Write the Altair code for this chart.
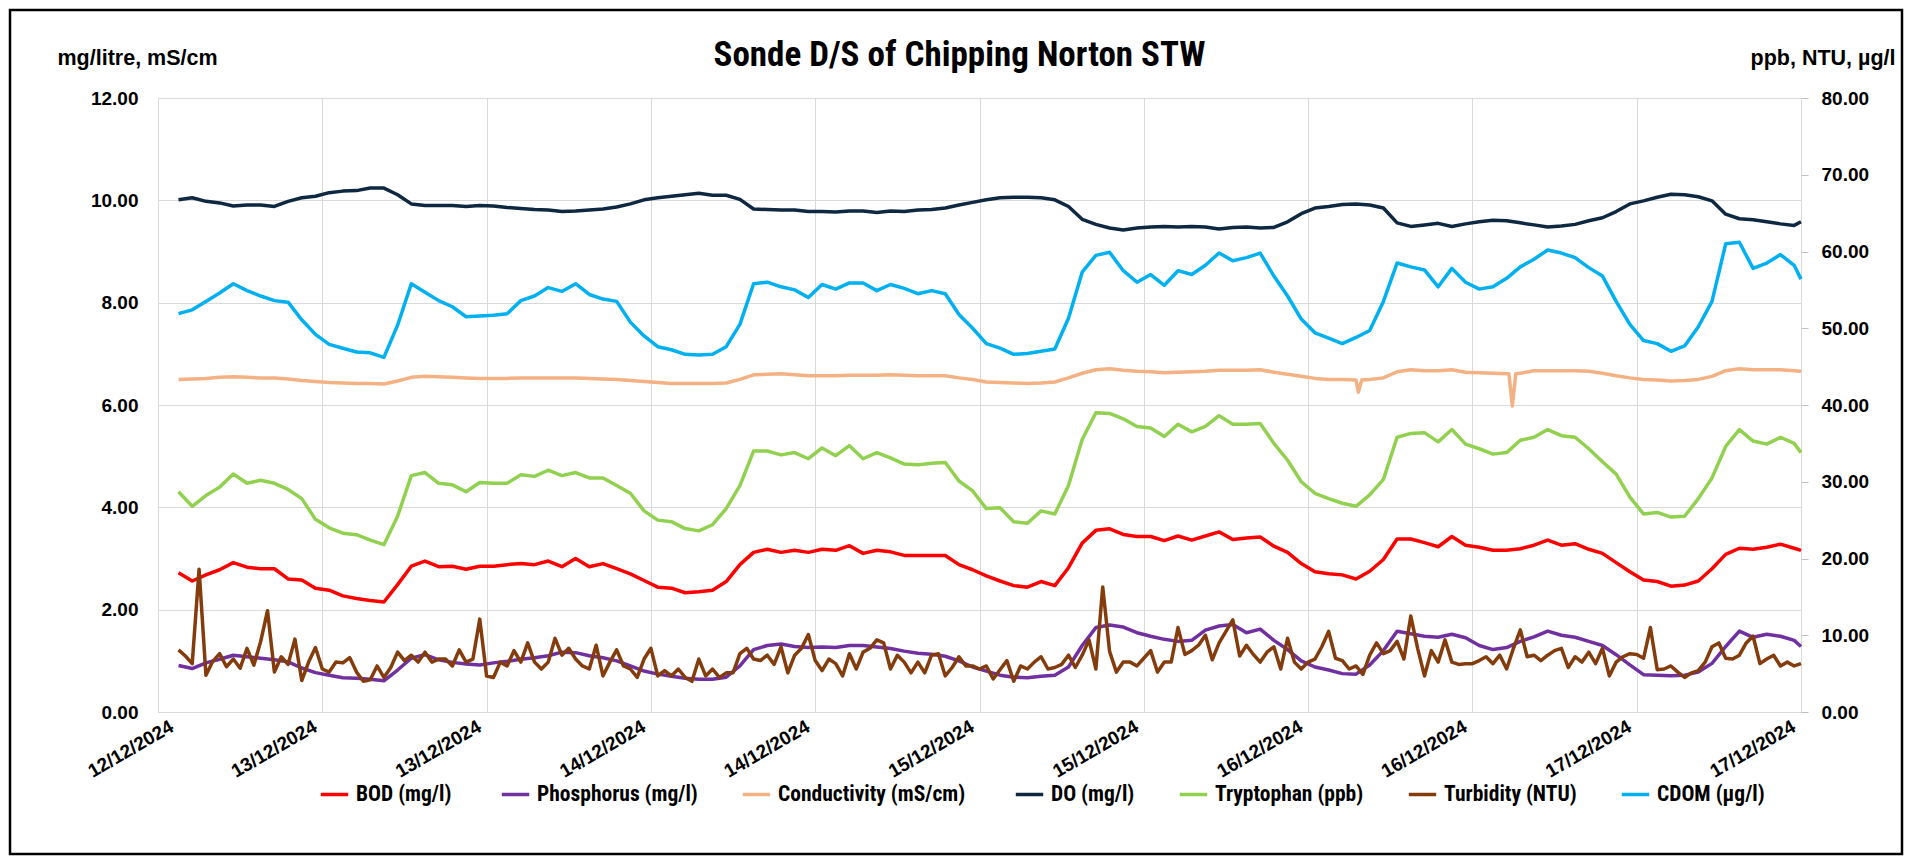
import altair as alt
import pandas as pd

# ---------------- data ----------------
SERIES = ["BOD  (mg/l)", "Phosphorus (mg/l)", "Conductivity  (mS/cm)", "DO (mg/l)",
          "Tryptophan (ppb)", "Turbidity (NTU)", "CDOM (µg/l)"]
COLORS = ["#FF0000", "#7030A0", "#F4B183", "#0E2841", "#92D050", "#843C0C", "#00B0F0"]
WIDTHS = [3.5, 3.5, 2.5, 2.5, 3.5, 3.5, 3.5]

# hourly readings, 12/12 13:30 ... 17/12 11:30, plus 17/12 12:00
hourly_times = [t.strftime("%Y-%m-%dT%H:%M:%S")
                for t in pd.date_range("2024-12-12 13:30", periods=119, freq="h")]
hourly_times.append("2024-12-17T12:00:00")
# half-hourly readings (turbidity)
half_times = [t.strftime("%Y-%m-%dT%H:%M:%S")
              for t in pd.date_range("2024-12-12 13:30", "2024-12-17 12:00", freq="30min")]

bod = [2.72, 2.56, 2.68, 2.78, 2.92, 2.83, 2.80, 2.80, 2.60, 2.58, 2.42, 2.38, 2.27, 2.22, 2.18, 2.15, 2.49, 2.85, 2.95, 2.84, 2.85, 2.79,
       2.85, 2.85, 2.88, 2.90, 2.88, 2.95, 2.84, 3.00, 2.84, 2.90, 2.80, 2.70, 2.57, 2.44, 2.42, 2.33, 2.35, 2.38, 2.55, 2.88, 3.12,
       3.18, 3.12, 3.16, 3.12, 3.18, 3.16, 3.25, 3.10, 3.16, 3.13, 3.06, 3.06, 3.06, 3.06, 2.88, 2.78, 2.66, 2.56, 2.47, 2.44, 2.55,
       2.47, 2.82, 3.30, 3.55, 3.58, 3.47, 3.43, 3.43, 3.35, 3.44, 3.36, 3.44, 3.52, 3.37, 3.40, 3.42, 3.24, 3.12, 2.90, 2.74, 2.70,
       2.68, 2.60, 2.75, 2.98, 3.38, 3.38, 3.31, 3.23, 3.43, 3.26, 3.22, 3.16, 3.16, 3.19, 3.26, 3.36, 3.26, 3.29, 3.18, 3.10, 2.92, 2.74,
       2.58, 2.55, 2.46, 2.48, 2.56, 2.80, 3.08, 3.20, 3.18, 3.22, 3.28, 3.20, 3.16]

phosphorus = [0.91, 0.85, 0.96, 1.03, 1.11, 1.08, 1.05, 1.02, 0.98, 0.86, 0.77, 0.72, 0.67, 0.66, 0.64, 0.61, 0.82, 1.05, 1.12, 1.02, 0.97, 0.94,
              0.92, 0.96, 0.99, 1.03, 1.06, 1.10, 1.17, 1.16, 1.10, 1.06, 1.00, 0.90, 0.80, 0.74, 0.70, 0.66, 0.64, 0.64, 0.68, 0.90, 1.22,
              1.30, 1.33, 1.28, 1.26, 1.27, 1.26, 1.30, 1.30, 1.27, 1.24, 1.19, 1.15, 1.13, 1.09, 1.00, 0.88, 0.80, 0.72, 0.68, 0.67, 0.70,
              0.72, 0.88, 1.30, 1.65, 1.70, 1.66, 1.55, 1.48, 1.42, 1.38, 1.40, 1.60, 1.68, 1.71, 1.55, 1.62, 1.40, 1.22, 1.00, 0.88, 0.82,
              0.75, 0.74, 0.92, 1.20, 1.58, 1.53, 1.48, 1.46, 1.52, 1.45, 1.30, 1.22, 1.26, 1.38, 1.47, 1.58, 1.50, 1.46, 1.38, 1.30, 1.12, 0.92,
              0.73, 0.72, 0.71, 0.72, 0.78, 0.95, 1.28, 1.58, 1.46, 1.52, 1.48, 1.40, 1.28]

conductivity = [6.50, 6.51, 6.52, 6.54, 6.55, 6.54, 6.53, 6.53, 6.51, 6.48, 6.46, 6.44, 6.43, 6.42, 6.42, 6.41, 6.47, 6.54, 6.56, 6.55, 6.54, 6.53,
                6.52, 6.52, 6.52, 6.53, 6.53, 6.53, 6.53, 6.53, 6.52, 6.51, 6.50, 6.48, 6.46, 6.44, 6.42, 6.42, 6.42, 6.42, 6.43, 6.50, 6.59,
                6.60, 6.61, 6.59, 6.57, 6.57, 6.57, 6.58, 6.58, 6.58, 6.59, 6.58, 6.57, 6.57, 6.57, 6.53, 6.50, 6.45, 6.44, 6.43, 6.42, 6.43,
                6.45, 6.53, 6.62, 6.69, 6.71, 6.68, 6.66, 6.65, 6.63, 6.64, 6.65, 6.66, 6.68, 6.68, 6.68, 6.69, 6.64, 6.60, 6.56, 6.52, 6.50,
                6.50, 6.49, 6.50, 6.53, 6.65, 6.69, 6.67, 6.67, 6.69, 6.64, 6.63, 6.62, 6.61, 6.62, 6.67, 6.67, 6.67, 6.67, 6.66, 6.62, 6.57, 6.53,
                6.50, 6.49, 6.47, 6.48, 6.50, 6.56, 6.67, 6.71, 6.69, 6.69, 6.69, 6.67, 6.66]
# two short conductivity drops on 16/12
cond_dip_times = ["2024-12-16T03:40:00", "2024-12-16T03:55:00",
                  "2024-12-16T14:40:00", "2024-12-16T14:55:00", "2024-12-16T15:10:00"]
cond_dip_values = [6.25, 6.49, 6.61, 5.98, 6.61]

dissolved_oxygen = [10.01, 10.05, 9.98, 9.95, 9.89, 9.91, 9.91, 9.88, 9.98, 10.05, 10.08, 10.15, 10.18, 10.19, 10.24, 10.24, 10.11, 9.93, 9.90, 9.90, 9.90, 9.88,
                    9.90, 9.89, 9.86, 9.84, 9.82, 9.81, 9.78, 9.79, 9.81, 9.83, 9.87, 9.93, 10.01, 10.05, 10.08, 10.11, 10.14, 10.10, 10.10, 10.02, 9.83,
                    9.82, 9.81, 9.81, 9.78, 9.78, 9.77, 9.79, 9.79, 9.76, 9.79, 9.78, 9.81, 9.82, 9.85, 9.91, 9.96, 10.01, 10.05, 10.06, 10.06, 10.05,
                    10.01, 9.88, 9.63, 9.53, 9.46, 9.42, 9.46, 9.48, 9.49, 9.48, 9.49, 9.48, 9.44, 9.47, 9.48, 9.46, 9.47, 9.58, 9.74, 9.85, 9.88,
                    9.92, 9.93, 9.91, 9.85, 9.56, 9.49, 9.52, 9.55, 9.49, 9.54, 9.58, 9.61, 9.60, 9.56, 9.52, 9.48, 9.50, 9.53, 9.60, 9.66, 9.78, 9.93,
                    9.99, 10.06, 10.12, 10.11, 10.07, 9.99, 9.73, 9.64, 9.62, 9.58, 9.54, 9.51, 9.58]

tryptophan = [28.7, 26.8, 28.2, 29.3, 31.0, 29.8, 30.2, 29.8, 29.0, 27.8, 25.1, 24.0, 23.3, 23.1, 22.4, 21.8, 25.5, 30.8, 31.2, 29.8, 29.6, 28.7,
              29.9, 29.8, 29.8, 30.9, 30.7, 31.5, 30.8, 31.2, 30.5, 30.5, 29.5, 28.5, 26.2, 25.0, 24.8, 23.9, 23.6, 24.4, 26.5, 29.5, 34.0,
              34.0, 33.5, 33.8, 33.0, 34.4, 33.4, 34.7, 33.0, 33.8, 33.1, 32.3, 32.2, 32.4, 32.5, 30.1, 28.8, 26.5, 26.6, 24.8, 24.6, 26.2,
              25.8, 29.5, 35.5, 39.0, 38.9, 38.2, 37.2, 37.0, 35.9, 37.5, 36.5, 37.2, 38.6, 37.5, 37.5, 37.6, 35.0, 32.8, 30.0, 28.5, 27.8,
              27.2, 26.8, 28.3, 30.3, 35.8, 36.3, 36.4, 35.2, 36.8, 34.9, 34.3, 33.6, 33.8, 35.4, 35.8, 36.8, 36.0, 35.8, 34.3, 32.6, 31.0, 28.0,
              25.8, 26.0, 25.4, 25.5, 27.8, 30.5, 34.6, 36.8, 35.3, 34.9, 35.8, 35.0, 33.8]

cdom = [51.9, 52.4, 53.5, 54.6, 55.8, 54.9, 54.2, 53.6, 53.4, 51.1, 49.2, 47.9, 47.4, 46.9, 46.8, 46.2, 50.4, 55.8, 54.7, 53.6, 52.8, 51.5,
        51.6, 51.7, 51.9, 53.6, 54.2, 55.3, 54.8, 55.8, 54.4, 53.8, 53.5, 50.8, 49.0, 47.6, 47.2, 46.6, 46.5, 46.6, 47.6, 50.5, 55.8,
        56.0, 55.4, 55.0, 54.0, 55.7, 55.1, 55.9, 55.9, 54.9, 55.7, 55.2, 54.5, 54.9, 54.5, 51.8, 50.0, 48.0, 47.4, 46.6, 46.7, 47.0,
        47.3, 51.3, 57.3, 59.5, 59.9, 57.5, 56.0, 57.0, 55.6, 57.5, 57.0, 58.2, 59.8, 58.8, 59.2, 59.8, 56.8, 54.2, 51.2, 49.4, 48.7,
        48.0, 48.8, 49.7, 53.5, 58.5, 58.0, 57.6, 55.4, 57.8, 56.0, 55.1, 55.4, 56.5, 58.0, 59.0, 60.2, 59.8, 59.2, 57.9, 56.8, 53.5, 50.5,
        48.4, 48.0, 47.0, 47.7, 50.2, 53.5, 61.0, 61.2, 57.8, 58.5, 59.6, 58.2, 56.4]

turbidity = [8.1, 7.3, 6.3, 18.6, 4.8, 6.6, 7.6, 5.9, 6.9, 5.7, 8.3, 6.1, 9.2, 13.2, 5.2, 7.2, 6.2, 9.5, 4.1, 6.5, 8.4, 5.6,
             5.2, 6.5, 6.4, 7.1, 5.2, 4.0, 4.2, 6.0, 4.5, 5.8, 7.8, 6.7, 7.4, 6.5, 7.8, 6.5, 6.9, 6.9, 6.0, 8.1, 6.5,
             6.9, 12.1, 4.7, 4.5, 6.5, 6.0, 8.0, 6.5, 9.0, 6.5, 5.6, 6.5, 9.6, 7.4, 8.3, 6.9, 6.0, 5.6, 8.7, 4.7, 6.5, 8.1,
             6.0, 5.6, 4.5, 6.9, 8.3, 4.7, 5.4, 4.7, 5.6, 4.5, 4.0, 6.9, 4.7, 5.6, 4.5, 5.1, 5.1, 7.6, 8.3, 6.9, 6.7,
             7.4, 6.2, 8.5, 5.1, 7.4, 8.3, 10.1, 6.7, 5.4, 6.9, 6.3, 4.7, 7.6, 5.6, 7.8, 8.3, 9.4, 9.0, 5.6, 7.4, 6.5,
             5.1, 6.5, 5.1, 7.4, 7.6, 4.7, 5.8, 7.2, 6.0, 6.0, 5.6, 6.0, 4.3, 5.5, 6.7, 4.0, 6.0, 5.6, 6.5, 7.2, 5.6,
             5.8, 6.2, 7.4, 5.8, 7.4, 9.4, 5.6, 16.3, 7.9, 5.2, 6.5, 6.5, 6.0, 7.0, 8.0, 5.2, 6.5, 6.5, 11.0, 7.5, 8.0,
             8.7, 10.0, 6.8, 9.0, 10.5, 12.0, 7.3, 8.7, 7.5, 6.5, 7.8, 8.5, 5.6, 9.6, 6.5, 5.6, 6.5, 6.9, 8.5, 10.5, 7.0,
             6.7, 5.6, 6.0, 4.9, 7.4, 9.0, 7.6, 8.0, 9.2, 6.9, 12.5, 8.3, 4.7, 8.0, 6.5, 9.4, 6.5, 6.2, 6.3, 6.3, 6.7, 7.2,
             6.3, 7.4, 5.6, 8.3, 10.7, 7.2, 7.4, 6.7, 7.4, 8.0, 8.3, 5.8, 7.2, 6.5, 7.8, 6.3, 8.3, 4.7, 6.5, 7.2, 7.6,
             7.5, 7.0, 11.0, 5.5, 5.6, 6.0, 5.2, 4.5, 5.1, 5.4, 6.5, 8.5, 9.0, 7.0, 6.9, 7.4, 9.0, 9.9, 6.3, 6.9, 7.4, 6.0, 6.5, 6.0, 6.3]


def frame(name, times, values):
    if len(times) != len(values):
        raise ValueError(f"{name}: {len(times)} times vs {len(values)} values")
    return pd.DataFrame({"time": times, "value": values, "series": name})


left_df = pd.concat([
    frame(SERIES[0], hourly_times, bod),
    frame(SERIES[1], hourly_times, phosphorus),
    frame(SERIES[2], hourly_times + cond_dip_times, conductivity + cond_dip_values),
    frame(SERIES[3], hourly_times, dissolved_oxygen),
], ignore_index=True).sort_values(["series", "time"])
right_df = pd.concat([
    frame(SERIES[4], hourly_times, tryptophan),
    frame(SERIES[5], half_times, turbidity),
    frame(SERIES[6], hourly_times, cdom),
], ignore_index=True).sort_values(["series", "time"])

# ---------------- styling ----------------
SANS = "Liberation Sans, Arial, sans-serif"
NARROW = "Liberation Sans Narrow, Roboto Condensed, DejaVu Sans Condensed, Liberation Sans, sans-serif"
GRID = "#D9D9D9"

x_ticks = [alt.DateTime(year=2024, month=12, date=d, hours=h)
           for d, h in [(12, 12), (13, 0), (13, 12), (14, 0), (14, 12), (15, 0),
                        (15, 12), (16, 0), (16, 12), (17, 0), (17, 12)]]

x_enc = alt.X(
    "time:T", title=None,
    scale=alt.Scale(domain=[x_ticks[0], x_ticks[-1]]),
    axis=alt.Axis(values=x_ticks, format="%d/%m/%Y", labelAngle=330, labelAlign="right",
                  labelBaseline="top", labelPadding=5,
                  labelOffset={"condition": {"test": "datum.value < datetime(2024, 11, 12, 18, 0)",
                                             "value": 9},
                               "value": -12},
                  ticks=False, grid=True,
                  gridColor=GRID, domainColor=GRID, labelFont=SANS, labelFontSize=19,
                  labelFontWeight="bold", labelColor="black", labelOverlap=False,
                  labelFlush=False),
)

color_enc = alt.Color(
    "series:N", scale=alt.Scale(domain=SERIES, range=COLORS),
    legend=alt.Legend(title=None, orient="none", legendX=161, legendY=681,
                      direction="horizontal", symbolType="stroke", symbolStrokeWidth=5.5,
                      symbolSize=750, labelFont=NARROW, labelFontSize=21.5,
                      labelFontWeight="bold", labelColor="black", labelOffset=6,
                      columnPadding=37, labelLimit=0, padding=0),
)
width_enc = alt.StrokeWidth("series:N", scale=alt.Scale(domain=SERIES, range=WIDTHS), legend=None)

left = alt.Chart(left_df).mark_line(strokeJoin="round").encode(
    x=x_enc,
    y=alt.Y("value:Q", scale=alt.Scale(domain=[0, 12], nice=False),
            axis=alt.Axis(values=list(range(0, 13, 2)), format=".2f", orient="left",
                          grid=True, gridColor=GRID, domain=False, ticks=False,
                          labelPadding=20, labelFont=SANS, labelFontSize=19,
                          labelFontWeight="bold", labelColor="black",
                          title="mg/litre, mS/cm", titleAngle=0, titleAlign="left",
                          titleBaseline="alphabetic", titleX=-101, titleY=-34,
                          titleFont=SANS, titleFontSize=21.5, titleFontWeight="bold",
                          titleColor="black")),
    color=color_enc,
    strokeWidth=width_enc,
)

right = alt.Chart(right_df).mark_line(strokeJoin="round").encode(
    x=x_enc,
    y=alt.Y("value:Q", scale=alt.Scale(domain=[0, 80], nice=False),
            axis=alt.Axis(values=list(range(0, 81, 10)), format=".2f", orient="right",
                          grid=False, domain=True, domainColor=GRID, ticks=True,
                          tickSize=7, tickColor="#BFBFBF", labelPadding=13,
                          labelFont=SANS, labelFontSize=19, labelFontWeight="bold",
                          labelColor="black", title="ppb, NTU, µg/l", titleAngle=0,
                          titleAlign="right", titleBaseline="alphabetic", titleX=94,
                          titleY=-34, titleFont=SANS, titleFontSize=21.5,
                          titleFontWeight="bold", titleColor="black")),
    color=color_enc,
    strokeWidth=width_enc,
)

border = alt.Chart(pd.DataFrame({"frame": [0]})).mark_rect(
    fillOpacity=0, stroke="black", strokeWidth=2.5
).encode(x=alt.value(-148), x2=alt.value(1744), y=alt.value(-88), y2=alt.value(756))

chart = alt.layer(left, right, border).resolve_scale(y="independent").properties(
    width=1643, height=614,
    padding={"left": 150, "top": 90, "right": 103, "bottom": 144},
    autosize=alt.AutoSizeParams(type="none"),
    title=alt.TitleParams("Sonde D/S of Chipping Norton STW", font=NARROW, fontSize=35,
                          fontWeight="bold", color="black", anchor="middle",
                          frame="group", dx=-20, dy=64, offset=0),
).configure_view(stroke=None).configure(background="white")

chart.save("out.html", embed_options={"renderer": "svg", "actions": False})
